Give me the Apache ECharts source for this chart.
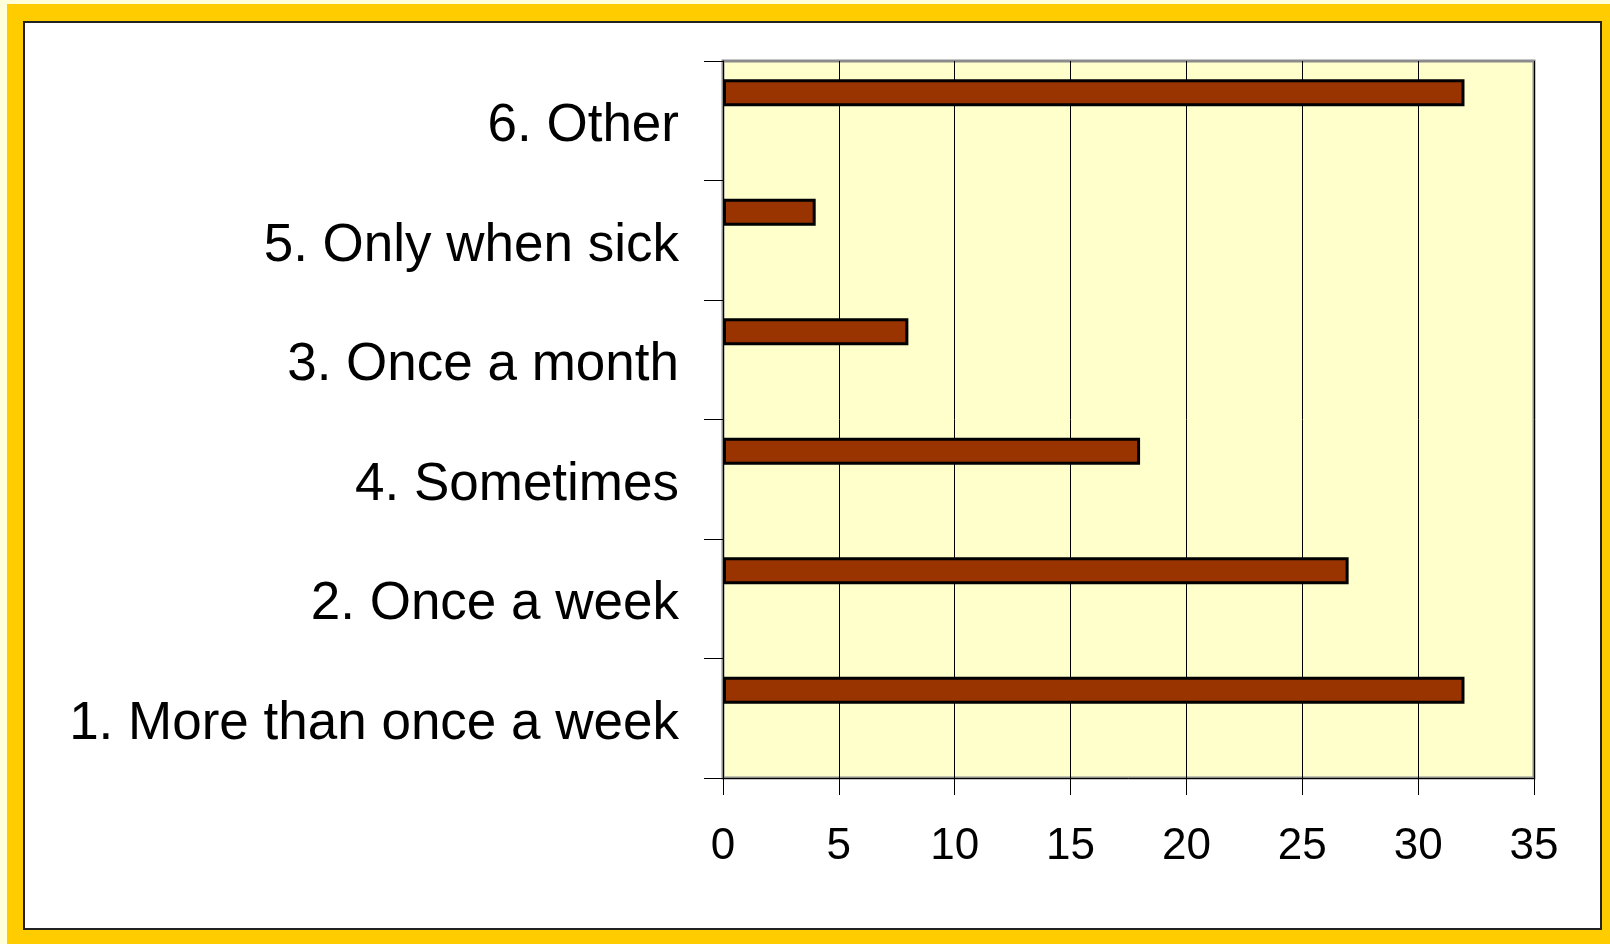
<!DOCTYPE html>
<html>
<head>
<meta charset="utf-8">
<title>Frequency</title>
<script src="https://cdn.jsdelivr.net/npm/echarts@6/dist/echarts.min.js"></script>
<style>
    html, body { margin: 0; padding: 0; background: #FFFFD9; }
    #main { width: 1610px; height: 944px; }
</style>
</head>
<body>
<div id="main"></div>
<script>
// categories, bottom to top
var categories = ['1. More than once a week', '2. Once a week', '4. Sometimes', '3. Once a month', '5. Only when sick', '6. Other'];
var counts = [32, 27, 18, 8, 4, 32];
// second (empty) series only keeps the bar shifted up in its slot, like the original
var emptySeries = [null, null, null, null, null, null];
var xTicks = { min: 0, max: 35, step: 5 };

var myChart = echarts.init(document.getElementById('main'));

var option = {
    animation: false,
    textStyle: { fontFamily: 'Liberation Sans, Arial, sans-serif' },
    graphic: [
        // gold frame + white card
        { type: 'rect', z: -10, silent: true, shape: { x: 7, y: 4, width: 1603, height: 940 }, style: { fill: '#FFCC00' } },
        { type: 'rect', z: -9, silent: true, shape: { x: 24, y: 22, width: 1577, height: 907 }, style: { fill: '#FFFFFF', stroke: '#222222', lineWidth: 2 } }
    ],
    grid: {
        left: 723,
        top: 61,
        right: 76,
        bottom: 166,
        show: true,
        backgroundColor: '#FFFFCC',
        borderColor: '#8C8C8C',
        borderWidth: 3
    },
    xAxis: {
        type: 'value',
        min: xTicks.min,
        max: xTicks.max,
        interval: xTicks.step,
        axisLine: { show: true, lineStyle: { color: '#000', width: 1 } },
        axisTick: { show: true, length: 17, lineStyle: { color: '#000' } },
        axisLabel: { color: '#000', fontSize: 44, margin: 47 },
        splitLine: { show: true, lineStyle: { color: '#000', width: 1 } }
    },
    yAxis: {
        type: 'category',
        data: categories,
        axisLine: { show: true, lineStyle: { color: '#000', width: 1 } },
        axisTick: { show: true, length: 19, lineStyle: { color: '#000' } },
        axisLabel: {
            color: '#000',
            fontSize: 53,
            margin: 44,
            formatter: function (value) {
                return '{lbl|' + value + '}';
            },
            rich: {
                lbl: { fontSize: 53, color: '#000', padding: [12, 0, 0, 0] }
            }
        },
        splitLine: { show: false }
    },
    series: [
        {
            name: 'count',
            type: 'bar',
            data: counts,
            barWidth: 27,
            barGap: '107%',
            itemStyle: { color: '#993300', borderColor: '#000', borderWidth: 3 }
        },
        {
            name: 'spacer',
            type: 'bar',
            data: emptySeries,
            barWidth: 27,
            barGap: '107%'
        }
    ]
};

myChart.setOption(option);
</script>
</body>
</html>
